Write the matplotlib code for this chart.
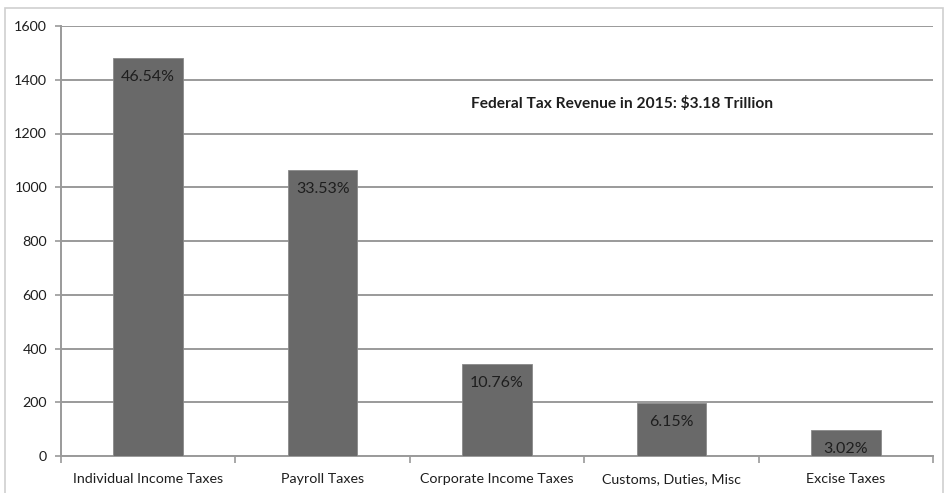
import matplotlib
matplotlib.use("Agg")
import matplotlib.pyplot as plt
from matplotlib.patches import Rectangle

categories = ["Individual Income Taxes", "Payroll Taxes", "Corporate Income Taxes",
              "Customs, Duties, Misc", "Excise Taxes"]
revenue = [1480, 1066, 342, 196, 96]          # billions of dollars
share_labels = ["46.54%", "33.53%", "10.76%", "6.15%", "3.02%"]
yticks = [0, 200, 400, 600, 800, 1000, 1200, 1400, 1600]
title_text = "Federal Tax Revenue in 2015: $3.18 Trillion"

plt.rcParams['font.family'] = ['Lato', 'DejaVu Sans']
text_col = "#1e1e1e"
grid_col = "#9a9a9a"

W, H = 948, 493
fig = plt.figure(figsize=(W / 100, H / 100), dpi=100)
fig.patch.set_facecolor("white")

# light outer frame around the chart area
fig.add_artist(Rectangle((5 / W, -0.02), 938 / W, 1 - 8 / H + 0.02,
                         transform=fig.transFigure, fill=False,
                         edgecolor="#cfcfcf", linewidth=1.2))

ax = fig.add_axes([61 / W, 37 / H, 872 / W, 430 / H])
x = list(range(len(categories)))
bars = ax.bar(x, revenue, width=0.4, color="#696969", edgecolor="#8a8a8a",
              linewidth=0.6, zorder=3)

ax.set_xlim(-0.5, len(categories) - 0.5)
ax.set_ylim(0, 1600)
ax.set_yticks(yticks)
ax.set_yticklabels([str(v) for v in yticks], fontsize=10.3, color=text_col)
ax.yaxis.grid(True, color=grid_col, linewidth=1.4, zorder=0)
ax.set_axisbelow(True)

# category labels centred under bars, tick marks on category boundaries
ax.set_xticks(x)
ax.set_xticklabels(categories, fontsize=10.3, color=text_col)
ax.tick_params(axis="x", length=0, pad=12)
ax.set_xticks([i - 0.5 for i in range(len(categories) + 1)], minor=True)
ax.tick_params(axis="x", which="minor", length=5, width=1.2, color=grid_col)
ax.tick_params(axis="y", length=4, width=1.2, color=grid_col, pad=6)

for side in ("top", "right"):
    ax.spines[side].set_visible(False)
for side in ("left", "bottom"):
    ax.spines[side].set_color(grid_col)
    ax.spines[side].set_linewidth(1.4)

# share of total written just inside the top of each bar
for rect, lab in zip(bars, share_labels):
    ax.annotate(lab, (rect.get_x() + rect.get_width() / 2, rect.get_height()),
                xytext=(0, -19), textcoords="offset pixels",
                ha="center", va="center", fontsize=11.5, color=text_col, zorder=4)

fig.text(622 / W, 1 - 103 / H, title_text, ha="center", va="center",
         fontsize=11.2, fontweight="bold", color=text_col)

fig.savefig("out.png", dpi=100, facecolor="white")
